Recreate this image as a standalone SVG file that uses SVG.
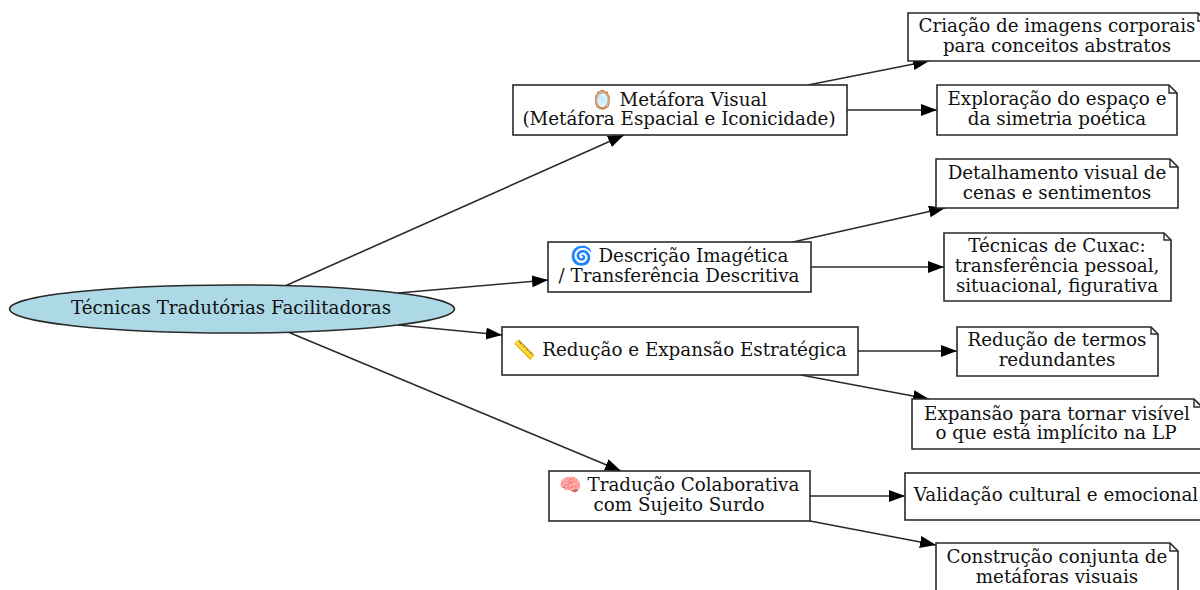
<svg xmlns="http://www.w3.org/2000/svg" width="1200" height="590" viewBox="0 0 1200 590">
<style>
text{font-family:"DejaVu Serif",serif;font-size:18.3px;fill:#111;text-anchor:middle}
.b{fill:#fff;stroke:#2a2a2a;stroke-width:1.6}
.n{fill:none;stroke:#2a2a2a;stroke-width:1.4}
.c line{stroke:#2a2a2a;stroke-width:1.6;marker-end:url(#a)}
</style>
<defs><marker id="a" markerUnits="userSpaceOnUse" markerWidth="18" markerHeight="13" refX="16" refY="6" orient="auto"><path d="M0 0L16 6L0 12Z" fill="#000"/></marker></defs>
<rect width="1200" height="590" fill="#fff"/>
<g id="connectors" class="c">
<line x1="285" y1="286" x2="624" y2="135"/>
<line x1="398" y1="293" x2="548" y2="280"/>
<line x1="398" y1="325" x2="502" y2="335"/>
<line x1="288" y1="332" x2="621" y2="471"/>
<line x1="808" y1="85" x2="929" y2="61"/>
<line x1="847" y1="110" x2="937" y2="110"/>
<line x1="793" y1="242" x2="945" y2="208"/>
<line x1="811" y1="267" x2="944" y2="267"/>
<line x1="858" y1="351" x2="957" y2="351"/>
<line x1="801" y1="375" x2="929" y2="399"/>
<line x1="810" y1="496" x2="905" y2="496"/>
<line x1="810" y1="521" x2="936" y2="545"/>
</g>
<g id="root"><ellipse cx="232" cy="309" rx="222.500" ry="24" fill="#add8e6" stroke="#2a2a2a" stroke-width="1.5"/><text x="231" y="314">Técnicas Tradutórias Facilitadoras</text></g>
<g id="n1"><rect class="b" x="513" y="85" width="334" height="50"/><text x="679" y="106">🪞 Metáfora Visual</text><text x="679" y="125">(Metáfora Espacial e Iconicidade)</text></g>
<g id="n2"><rect class="b" x="548" y="242" width="263" height="50"/><text x="679" y="262">🌀 Descrição Imagética</text><text x="679" y="282">/ Transferência Descritiva</text></g>
<g id="n3"><rect class="b" x="502" y="327" width="356" height="48"/><text x="680" y="356">📏 Redução e Expansão Estratégica</text></g>
<g id="n4"><rect class="b" x="549" y="471" width="261" height="50"/><text x="679" y="491">🧠 Tradução Colaborativa</text><text x="679" y="511">com Sujeito Surdo</text></g>
<g id="l1"><path class="b" d="M908 13H1198L1206 21V61H908Z"/><path class="n" d="M1198 13V21H1206"/><text x="1057" y="32">Criação de imagens corporais</text><text x="1057" y="52">para conceitos abstratos</text></g>
<g id="l2"><path class="b" d="M937 85H1169L1177 93V135H937Z"/><path class="n" d="M1169 85V93H1177"/><text x="1057" y="105">Exploração do espaço e</text><text x="1057" y="125">da simetria poética</text></g>
<g id="l3"><path class="b" d="M936 159H1170L1178 167V208H936Z"/><path class="n" d="M1170 159V167H1178"/><text x="1057" y="179">Detalhamento visual de</text><text x="1057" y="199">cenas e sentimentos</text></g>
<g id="l4"><path class="b" d="M944 233H1164L1171 240V301H944Z"/><path class="n" d="M1164 233V240H1171"/><text x="1057" y="252">Técnicas de Cuxac:</text><text x="1057" y="272">transferência pessoal,</text><text x="1057" y="292">situacional, figurativa</text></g>
<g id="l5"><path class="b" d="M957 327H1151L1158 334V376H957Z"/><path class="n" d="M1151 327V334H1158"/><text x="1057" y="346">Redução de termos</text><text x="1057" y="366">redundantes</text></g>
<g id="l6"><path class="b" d="M912 399H1194L1202 407V449H912Z"/><path class="n" d="M1194 399V407H1202"/><text x="1057" y="420">Expansão para tornar visível</text><text x="1056" y="439">o que está implícito na LP</text></g>
<g id="l7"><rect class="b" x="905" y="473" width="300" height="47"/><text x="1056" y="501">Validação cultural e emocional</text></g>
<g id="l8"><path class="b" d="M936 543H1170L1178 551V600H936Z"/><path class="n" d="M1170 543V551H1178"/><text x="1057" y="563">Construção conjunta de</text><text x="1057" y="583">metáforas visuais</text></g>
</svg>
